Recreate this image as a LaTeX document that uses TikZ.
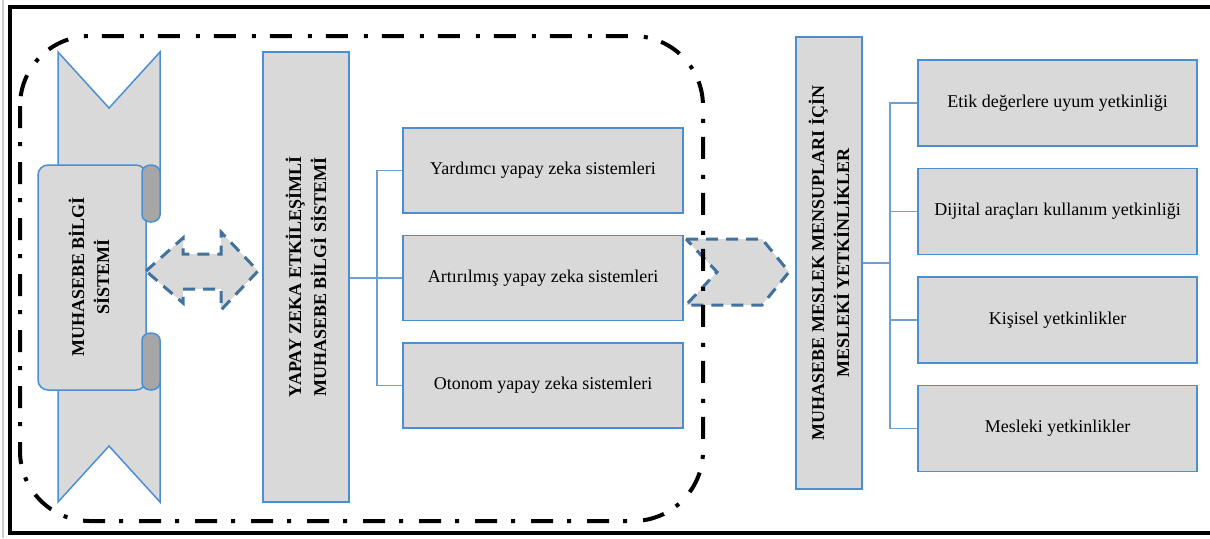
\documentclass[tikz,border=0pt]{standalone}
\usepackage{fontspec}
\setmainfont{Liberation Serif}
\usetikzlibrary{positioning}

\definecolor{boxgray}{HTML}{D9D9D9}
\definecolor{curlgray}{HTML}{A6A6A6}
\definecolor{boxblue}{HTML}{4A8FD4}
\definecolor{dashblue}{HTML}{41719C}
\definecolor{linkblue}{HTML}{6F9FD0}

\tikzset{
	box/.style={draw=boxblue, fill=boxgray, line width=0.75pt, inner sep=0pt, font=\fontsize{9}{12}\selectfont},
	vtext/.style={rotate=90, align=center, inner sep=0pt, font=\fontsize{9}{12.5}\selectfont\bfseries},
	link/.style={draw=linkblue, line width=0.75pt},
	flow/.style={draw=dashblue, fill=boxgray, line width=1.5pt, dash pattern=on 6pt off 4pt},
	frame/.style={line width=2pt, dash pattern=on 11pt off 7pt on 2pt off 8pt},
	scroll/.style={draw=boxblue, fill=boxgray, line width=0.75pt},
}

\begin{document}
\begin{tikzpicture}[x=0.5pt, y=-0.5pt]
	\useasboundingbox (0,0) rectangle (1210,538);

	\draw[scroll] (58,52) -- (109,108) -- (160,52) -- (160,200) -- (58,200) -- cycle;
	\draw[scroll] (58,502) -- (109,446) -- (160,502) -- (160,355) -- (58,355) -- cycle;
	\draw[scroll, rounded corners=5pt] (38,165) rectangle (146,390);
	\draw[scroll, fill=curlgray] (142,172) arc[start angle=180, end angle=360, x radius=9, y radius=7]
		-- (160,215) arc[start angle=0, end angle=180, x radius=9, y radius=7] -- cycle;
	\draw[scroll, fill=curlgray] (142,340) arc[start angle=180, end angle=360, x radius=9, y radius=7]
		-- (160,383) arc[start angle=0, end angle=180, x radius=9, y radius=7] -- cycle;
	\node[vtext] (mbs) at (89,277) {MUHASEBE BİLGİ\\SİSTEMİ};

	\draw[flow] (146,271) -- (183,238) -- (183,254) -- (221,254) -- (221,232) -- (258,271)
		-- (221,310) -- (221,289) -- (183,289) -- (183,303) -- cycle;

	\node[box, minimum width=43pt, minimum height=225pt] (yz) at (306,277) {};
	\node[vtext] at (yz) {YAPAY ZEKA ETKİLEŞİMLİ\\MUHASEBE BİLGİ SİSTEMİ};

	\node[box, minimum width=140pt, minimum height=42.5pt] (y1) at (543,170.5) {Yardımcı yapay zeka sistemleri};
	\node[box, minimum width=140pt, minimum height=42.5pt, below=10.5pt of y1] (y2) {Artırılmış yapay zeka sistemleri};
	\node[box, minimum width=140pt, minimum height=42.5pt, below=10.5pt of y2] (y3) {Otonom yapay zeka sistemleri};

	\coordinate (s1) at (377,277.5);
	\draw[link] (yz.east |- y2.west) -- (y2.west);
	\draw[link] (y1.west) -| (s1) |- (y3.west);

	\draw[flow] (686,239) -- (762,239) -- (789,272) -- (762,305) -- (686,305) -- (717,272) -- cycle;

	\draw[frame, rounded corners=35pt] (20,36) rectangle (703,521);

	\node[box, minimum width=33pt, minimum height=226pt] (mm) at (829,263) {};
	\node[vtext] at (mm) {MUHASEBE MESLEK MENSUPLARI İÇİN\\MESLEKİ YETKİNLİKLER};

	\node[box, minimum width=139.5pt, minimum height=43pt] (r1) at (1057.5,103) {Etik değerlere uyum yetkinliği};
	\node[box, minimum width=139.5pt, minimum height=43pt, below=10.5pt of r1] (r2) {Dijital araçları kullanım yetkinliği};
	\node[box, minimum width=139.5pt, minimum height=43pt, below=10.5pt of r2] (r3) {Kişisel yetkinlikler};
	\node[box, minimum width=139.5pt, minimum height=43pt, below=10.5pt of r3] (r4) {Mesleki yetkinlikler};

	\coordinate (s2) at (890,263);
	\draw[link] (mm.east) -- (s2);
	\draw[link] (r1.west) -| (s2) |- (r4.west);
	\draw[link] (s2 |- r2.west) -- (r2.west);
	\draw[link] (s2 |- r3.west) -- (r3.west);

	\draw[black!20, line width=0.75pt] (3,0) -- (3,538);
	\draw[line width=2pt] (1215,7) -- (10,7) -- (10,533) -- (1215,533);
\end{tikzpicture}
\end{document}
